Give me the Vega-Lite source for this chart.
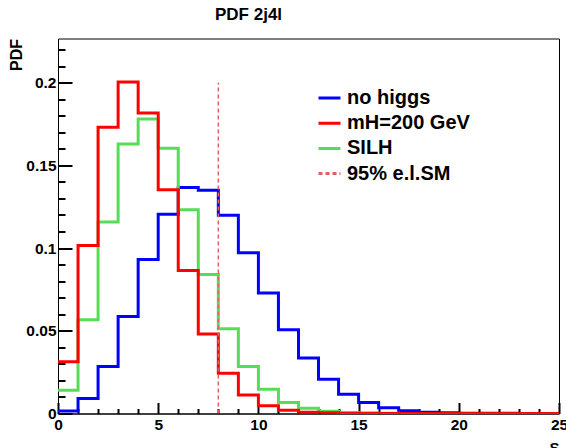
{
  "$schema": "https://vega.github.io/schema/vega-lite/v6.json",
  "width": 501,
  "height": 375,
  "autosize": {"type": "none"},
  "padding": {"left": 58, "top": 38.5, "right": 7, "bottom": 34.5},
  "background": "white",
  "config": {
    "font": "Liberation Sans",
    "view": {"stroke": "black", "strokeWidth": 1},
    "axis": {"domainColor": "black", "labelColor": "black", "titleColor": "black", "grid": false}
  },
  "title": {
    "text": "PDF 2j4l",
    "font": "Liberation Sans",
    "fontSize": 17,
    "fontWeight": "bold",
    "anchor": "start",
    "frame": "group",
    "dx": 157,
    "offset": 15,
    "color": "black"
  },
  "datasets": {
    "hist": [
      {"series": "no higgs", "S": 0, "v": 0.0015},
      {"series": "no higgs", "S": 1, "v": 0.009},
      {"series": "no higgs", "S": 2, "v": 0.0284},
      {"series": "no higgs", "S": 3, "v": 0.0586},
      {"series": "no higgs", "S": 4, "v": 0.0931},
      {"series": "no higgs", "S": 5, "v": 0.1204},
      {"series": "no higgs", "S": 6, "v": 0.1366},
      {"series": "no higgs", "S": 7, "v": 0.135},
      {"series": "no higgs", "S": 8, "v": 0.1198},
      {"series": "no higgs", "S": 9, "v": 0.0972},
      {"series": "no higgs", "S": 10, "v": 0.0729},
      {"series": "no higgs", "S": 11, "v": 0.0507},
      {"series": "no higgs", "S": 12, "v": 0.0335},
      {"series": "no higgs", "S": 13, "v": 0.0207},
      {"series": "no higgs", "S": 14, "v": 0.0116},
      {"series": "no higgs", "S": 15, "v": 0.0066},
      {"series": "no higgs", "S": 16, "v": 0.0035},
      {"series": "no higgs", "S": 17, "v": 0.0017},
      {"series": "no higgs", "S": 18, "v": 0.0008},
      {"series": "no higgs", "S": 19, "v": 0.0004},
      {"series": "no higgs", "S": 20, "v": 0.0002},
      {"series": "no higgs", "S": 21, "v": 0.0001},
      {"series": "no higgs", "S": 22, "v": 0.0001},
      {"series": "no higgs", "S": 23, "v": 0},
      {"series": "no higgs", "S": 24, "v": 0},
      {"series": "no higgs", "S": 25, "v": 0},
      {"series": "SILH", "S": 0, "v": 0.0141},
      {"series": "SILH", "S": 1, "v": 0.0566},
      {"series": "SILH", "S": 2, "v": 0.1158},
      {"series": "SILH", "S": 3, "v": 0.1629},
      {"series": "SILH", "S": 4, "v": 0.1781},
      {"series": "SILH", "S": 5, "v": 0.1603},
      {"series": "SILH", "S": 6, "v": 0.1231},
      {"series": "SILH", "S": 7, "v": 0.084},
      {"series": "SILH", "S": 8, "v": 0.0513},
      {"series": "SILH", "S": 9, "v": 0.0284},
      {"series": "SILH", "S": 10, "v": 0.0147},
      {"series": "SILH", "S": 11, "v": 0.0067},
      {"series": "SILH", "S": 12, "v": 0.0031},
      {"series": "SILH", "S": 13, "v": 0.0013},
      {"series": "SILH", "S": 14, "v": 0.0005},
      {"series": "SILH", "S": 15, "v": 0.0002},
      {"series": "SILH", "S": 16, "v": 0.0001},
      {"series": "SILH", "S": 17, "v": 0},
      {"series": "SILH", "S": 18, "v": 0},
      {"series": "SILH", "S": 19, "v": 0},
      {"series": "SILH", "S": 20, "v": 0},
      {"series": "SILH", "S": 21, "v": 0},
      {"series": "SILH", "S": 22, "v": 0},
      {"series": "SILH", "S": 23, "v": 0},
      {"series": "SILH", "S": 24, "v": 0},
      {"series": "SILH", "S": 25, "v": 0},
      {"series": "mH=200 GeV", "S": 0, "v": 0.0313},
      {"series": "mH=200 GeV", "S": 1, "v": 0.1016},
      {"series": "mH=200 GeV", "S": 2, "v": 0.173},
      {"series": "mH=200 GeV", "S": 3, "v": 0.2004},
      {"series": "mH=200 GeV", "S": 4, "v": 0.1817},
      {"series": "mH=200 GeV", "S": 5, "v": 0.1352},
      {"series": "mH=200 GeV", "S": 6, "v": 0.0865},
      {"series": "mH=200 GeV", "S": 7, "v": 0.048},
      {"series": "mH=200 GeV", "S": 8, "v": 0.0244},
      {"series": "mH=200 GeV", "S": 9, "v": 0.0112},
      {"series": "mH=200 GeV", "S": 10, "v": 0.0047},
      {"series": "mH=200 GeV", "S": 11, "v": 0.002},
      {"series": "mH=200 GeV", "S": 12, "v": 0.0008},
      {"series": "mH=200 GeV", "S": 13, "v": 0.0004},
      {"series": "mH=200 GeV", "S": 14, "v": 0.0002},
      {"series": "mH=200 GeV", "S": 15, "v": 0.0001},
      {"series": "mH=200 GeV", "S": 16, "v": 0},
      {"series": "mH=200 GeV", "S": 17, "v": 0},
      {"series": "mH=200 GeV", "S": 18, "v": 0},
      {"series": "mH=200 GeV", "S": 19, "v": 0},
      {"series": "mH=200 GeV", "S": 20, "v": 0},
      {"series": "mH=200 GeV", "S": 21, "v": 0},
      {"series": "mH=200 GeV", "S": 22, "v": 0},
      {"series": "mH=200 GeV", "S": 23, "v": 0},
      {"series": "mH=200 GeV", "S": 24, "v": 0},
      {"series": "mH=200 GeV", "S": 25, "v": 0}
    ],
    "limit": [
      {"series": "95% e.l.SM", "S": 8, "bottom": 0, "top": 0.2}
    ]
  },
  "resolve": {"axis": {"x": "independent", "y": "independent"}},
  "layer": [
    {
      "data": {"name": "hist"},
      "mark": {"type": "line", "interpolate": "step-after", "strokeJoin": "miter", "strokeWidth": 3, "clip": true},
      "encoding": {
        "x": {
          "field": "S", "type": "quantitative",
          "scale": {"domain": [0, 25], "nice": false, "zero": false},
          "axis": {
            "orient": "bottom",
            "title": "S",
            "titleAnchor": "end",
            "titleAlign": "right",
            "titleFontSize": 15,
            "titleFontWeight": "bold",
            "titlePadding": 7,
            "values": [0, 5, 10, 15, 20, 25],
            "format": "d",
            "labelFontSize": 15.5,
            "labelFontWeight": "bold",
            "labelFlush": false,
            "labelOverlap": false,
            "ticks": false,
            "labelPadding": 4,
            "domainWidth": 1
          }
        },
        "y": {
          "field": "v", "type": "quantitative",
          "scale": {"domain": [0, 0.2267], "nice": false, "zero": false},
          "axis": {
            "orient": "left",
            "title": "PDF",
            "titleAnchor": "end",
            "titleFontSize": 16,
            "titleFontWeight": "bold",
            "titlePadding": 1,
            "values": [0, 0.05, 0.1, 0.15, 0.2],
            "format": "~g",
            "labelFontSize": 15.5,
            "labelFontWeight": "bold",
            "labelFlush": false,
            "labelOverlap": false,
            "ticks": false,
            "labelPadding": 2,
            "domainWidth": 1
          }
        },
        "color": {
          "field": "series", "type": "nominal",
          "scale": {"domain": ["no higgs", "mH=200 GeV", "SILH", "95% e.l.SM"], "range": ["#0000ff", "#ff0000", "#55dd55", "#e06060"]},
          "legend": {
            "title": null,
            "orient": "none",
            "legendX": 259,
            "legendY": 47,
            "symbolType": "stroke",
            "symbolSize": 484,
            "symbolStrokeWidth": 3,
            "labelFontSize": 20,
            "labelFontWeight": "bold",
            "labelColor": "black",
            "labelOffset": 5,
            "rowPadding": 2.2,
            "padding": 0
          }
        },
        "strokeDash": {
          "field": "series", "type": "nominal",
          "scale": {"domain": ["no higgs", "mH=200 GeV", "SILH", "95% e.l.SM"], "range": [[1, 0], [1, 0], [1, 0], [4, 3]]},
          "legend": {
            "title": null,
            "orient": "none",
            "legendX": 259,
            "legendY": 47,
            "symbolType": "stroke",
            "symbolSize": 484,
            "symbolStrokeWidth": 3,
            "labelFontSize": 20,
            "labelFontWeight": "bold",
            "labelColor": "black",
            "labelOffset": 5,
            "rowPadding": 2.2,
            "padding": 0
          }
        }
      }
    },
    {
      "data": {"name": "limit"},
      "mark": {"type": "rule", "strokeWidth": 1.5},
      "encoding": {
        "x": {
          "field": "S", "type": "quantitative",
          "axis": {
            "orient": "top",
            "offset": -375,
            "title": null,
            "values": [0, 5, 10, 15, 20, 25],
            "labels": false,
            "domain": false,
            "ticks": true,
            "tickColor": "#000000",
            "tickOpacity": 1,
            "tickSize": 11,
            "tickWidth": 2
          }
        },
        "y": {
          "field": "bottom", "type": "quantitative",
          "axis": {
            "orient": "right",
            "offset": -501,
            "title": null,
            "values": [0, 0.05, 0.1, 0.15, 0.2],
            "labels": false,
            "domain": false,
            "ticks": true,
            "tickColor": "#000000",
            "tickOpacity": 1,
            "tickSize": 14,
            "tickWidth": 2
          }
        },
        "y2": {"field": "top"},
        "color": {"field": "series", "type": "nominal"},
        "strokeDash": {"field": "series", "type": "nominal"}
      }
    },
    {
      "data": {"name": "limit"},
      "mark": {"type": "rule", "opacity": 0},
      "encoding": {
        "x": {
          "field": "S", "type": "quantitative",
          "axis": {
            "orient": "top",
            "offset": -375,
            "title": null,
            "values": [1,2,3,4,6,7,8,9,11,12,13,14,16,17,18,19,21,22,23,24],
            "labels": false,
            "domain": false,
            "ticks": true,
            "tickColor": "#000000",
            "tickOpacity": 1,
            "tickSize": 5,
            "tickWidth": 2
          }
        },
        "y": {
          "field": "bottom", "type": "quantitative",
          "axis": {
            "orient": "right",
            "offset": -501,
            "title": null,
            "values": [0.01,0.02,0.03,0.04,0.06,0.07,0.08,0.09,0.11,0.12,0.13,0.14,0.16,0.17,0.18,0.19,0.21,0.22],
            "labels": false,
            "domain": false,
            "ticks": true,
            "tickColor": "#000000",
            "tickOpacity": 1,
            "tickSize": 7,
            "tickWidth": 2
          }
        },
        "y2": {"field": "top"}
      }
    }
  ]
}
